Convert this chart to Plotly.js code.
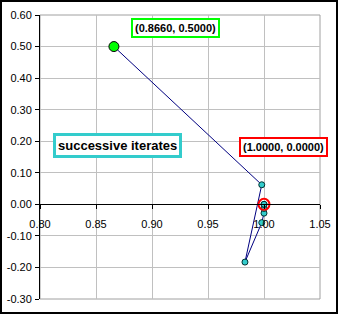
<!DOCTYPE html>
<html>
<head>
<meta charset="utf-8">
<script src="https://cdn.plot.ly/plotly-3.0.1.min.js"></script>
<style>
  html, body { margin: 0; padding: 0; background: #fff; }
  #wrap { position: relative; width: 338px; height: 315px; }
  #chart { width: 338px; height: 315px; }
  #frame { position: absolute; left: 0; top: 0; width: 338px; height: 314px; box-sizing: border-box; border: 2px solid #000; pointer-events: none; }
</style>
</head>
<body>
<div id="wrap"><div id="chart"></div><div id="frame"></div></div>
<script>
// Iterates (x, y)
const iterX = [0.8660, 0.998, 0.983, 0.998, 1.000, 1.000, 1.000];
const iterY = [0.5000, 0.062, -0.183, -0.058, -0.028, -0.013, 0.000];
const startX = [0.8660];
const startY = [0.5000];
const endX = [1.0000];
const endY = [0.0000];
const xTicks = [0.80, 0.85, 0.90, 0.95, 1.00, 1.05];
const yTicks = [-0.30, -0.20, -0.10, 0.00, 0.10, 0.20, 0.30, 0.40, 0.50, 0.60];
const startLabel = "(0.8660, 0.5000)";
const endLabel = "(1.0000, 0.0000)";
const iterLabel = "successive iterates";

const font = {family: "Liberation Sans, Arial, sans-serif", size: 11, color: "#000"};
const boldFont = {family: "Liberation Sans, Arial, sans-serif", size: 11, color: "#000", weight: 700};

const traces = [
  {
    x: iterX, y: iterY, type: "scatter", mode: "lines+markers",
    line: {color: "#000080", width: 1},
    marker: {size: 6, color: "#33CCCC", line: {color: "#003333", width: 1}},
    hoverinfo: "skip"
  },
  {
    x: endX, y: endY, type: "scatter", mode: "markers",
    marker: {size: 11, color: "rgba(0,0,0,0)", line: {color: "#FF0000", width: 2}},
    hoverinfo: "skip"
  },
  {
    x: endX, y: endY, type: "scatter", mode: "markers",
    marker: {size: 6, color: "#33CCCC", line: {color: "#003333", width: 1}},
    hoverinfo: "skip"
  },
  {
    x: startX, y: startY, type: "scatter", mode: "markers",
    marker: {size: 10, color: "#00FF00", line: {color: "#000000", width: 1}},
    hoverinfo: "skip"
  }
];

const layout = {
  width: 338, height: 315,
  margin: {l: 40, r: 18, t: 15, b: 16, pad: 0},
  paper_bgcolor: "#fff", plot_bgcolor: "#fff",
  showlegend: false,
  font: font,
  xaxis: {
    range: [0.80, 1.05], tickvals: xTicks, ticktext: xTicks.map(v => v.toFixed(2)),
    anchor: "free", position: 1/3,
    showgrid: true, gridcolor: "#C0C0C0", gridwidth: 1,
    zeroline: false, showline: true, linecolor: "#000", linewidth: 1,
    ticks: "outside", ticklen: 4, tickcolor: "#000", tickfont: font,
    ticklabelstandoff: 5
  },
  yaxis: {
    range: [-0.30, 0.60], tickvals: yTicks, ticktext: yTicks.map(v => v.toFixed(2)),
    showgrid: true, gridcolor: "#C0C0C0", gridwidth: 1,
    zeroline: false, showline: true, linecolor: "#000", linewidth: 1,
    ticks: "outside", ticklen: 4, tickcolor: "#000", tickfont: font,
    ticklabelstandoff: 1
  },
  shapes: [
    {type: "rect", xref: "paper", yref: "paper", x0: 0, x1: 1, y0: 0, y1: 1,
     line: {color: "#A0A0A0", width: 1}, layer: "below"}
  ],
  annotations: [
    {x: 0.9208, y: 0.558, xref: "x", yref: "y", text: startLabel, showarrow: false,
     font: boldFont, bgcolor: "#fff", bordercolor: "#00FF00", borderwidth: 2, borderpad: 2,
     xanchor: "center", yanchor: "middle"},
    {x: 1.0178, y: 0.1815, xref: "x", yref: "y", text: endLabel, showarrow: false,
     font: boldFont, bgcolor: "#fff", bordercolor: "#FF0000", borderwidth: 2, borderpad: 2,
     xanchor: "center", yanchor: "middle"},
    {x: 0.869, y: 0.185, xref: "x", yref: "y", text: iterLabel, showarrow: false,
     font: {family: "Liberation Sans, Arial, sans-serif", size: 13, color: "#000", weight: 700},
     bgcolor: "#fff", bordercolor: "#33CCCC", borderwidth: 3, borderpad: 2,
     xanchor: "center", yanchor: "middle"}
  ]
};

Plotly.newPlot("chart", traces, layout, {staticPlot: true, displayModeBar: false});
</script>
</body>
</html>
